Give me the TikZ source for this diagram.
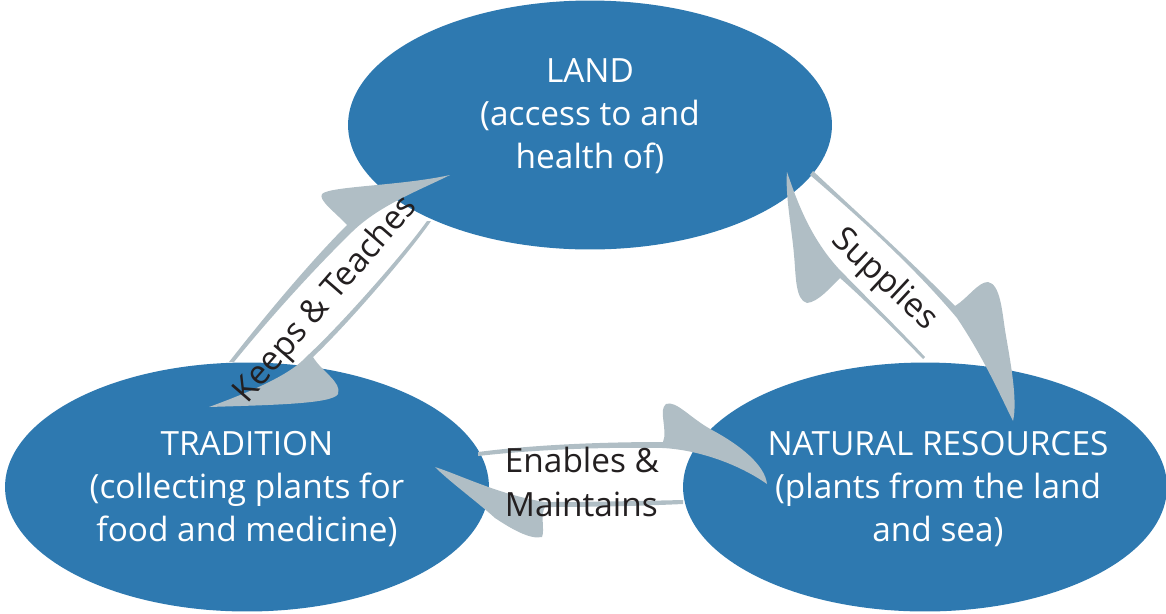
\documentclass[tikz,border=0pt]{standalone}
\usepackage{fontspec}
\setmainfont{Open Sans}
\usepackage{xcolor}
\definecolor{ringblue}{RGB}{46,121,176}
\definecolor{swoosh}{RGB}{176,190,197}
\definecolor{ink}{RGB}{35,31,32}
\usepackage{tikz}
\usetikzlibrary{shapes.geometric}
\tikzstyle{ring} = [
    ellipse,
    minimum width=9.68cm,
    minimum height=4.98cm,
    inner sep=0pt,
    fill=ringblue,
]
\tikzstyle{ringtext} = [
    align=center,
    inner sep=0pt,
    text=white,
    font=\fontsize{19}{24.6}\selectfont,
]
\tikzstyle{swoop} = [
    fill=swoosh,
    draw=none,
]
\tikzstyle{verb} = [
    text=ink, align=left,
    inner sep=0pt,
    font=\fontsize{19}{24.6}\selectfont,
]

\begin{document}
\begin{tikzpicture}[x=0.02cm, y=-0.02cm]
    \useasboundingbox (0,0) rectangle (1166,613);

    % ellipses
    \node (land) at (590,125) [ring] {};
    \node (tradition) at (247,487) [ring] {};
    \node (resources) at (925,487) [ring] {};

    % arrows
    % tradition -> land
    \fill [swoop] (229,362) .. controls (265,316) and (310,262) .. (347,225)
        .. controls (335,212) and (318,200) .. (322,194)
        .. controls (330,186) and (400,186) .. (450,175)
        .. controls (420,190) and (380,205) .. (353,231)
        .. controls (313,270) and (268,320) .. (234,362) -- cycle;
    % land -> tradition
    \fill [swoop] (431,221) .. controls (410,252) and (346,326) .. (313,357)
        .. controls (322,372) and (342,382) .. (338,394)
        .. controls (333,404) and (270,405) .. (209,407)
        .. controls (250,392) and (290,375) .. (306,357)
        .. controls (340,326) and (405,252) .. (427,221) -- cycle;
    % land -> resources
    \fill [swoop] (813,171) .. controls (860,215) and (915,265) .. (955,306)
        .. controls (968,298) and (978,282) .. (988,282)
        .. controls (1000,284) and (1002,310) .. (1005,330)
        .. controls (1010,360) and (1018,400) .. (1013,421)
        .. controls (1000,395) and (985,360) .. (957,318)
        .. controls (915,268) and (860,218) .. (810,175) -- cycle;
    % resources -> land
    \fill [swoop] (923,359) .. controls (895,330) and (865,300) .. (840,278)
        .. controls (830,288) and (818,302) .. (807,303)
        .. controls (795,300) and (796,275) .. (794,255)
        .. controls (792,230) and (785,195) .. (787,172)
        .. controls (795,195) and (808,235) .. (838,268)
        .. controls (865,296) and (900,330) .. (925,357) -- cycle;
    % tradition -> resources
    \fill [swoop] (478,452) .. controls (540,444) and (610,442) .. (663,442)
        .. controls (668,430) and (658,410) .. (666,404)
        .. controls (676,400) and (690,418) .. (712,430)
        .. controls (740,445) and (765,465) .. (767,484)
        .. controls (740,465) and (700,450) .. (663,448)
        .. controls (610,447) and (540,449) .. (478,456) -- cycle;
    % resources -> tradition
    \fill [swoop] (683,504) .. controls (640,506) and (590,507) .. (545,507)
        .. controls (540,515) and (545,530) .. (542,537)
        .. controls (530,540) and (510,528) .. (495,518)
        .. controls (475,500) and (450,482) .. (435,467)
        .. controls (460,475) and (500,495) .. (545,502)
        .. controls (590,502) and (640,501) .. (683,500) -- cycle;

    % labels
    \node (landtext) at (590,116) [ringtext] {LAND\\(access to and\\health of)};
    \node (traditiontext) at (247,489) [ringtext] {TRADITION\\(collecting plants for\\food and medicine)};
    \node (resourcestext) at (938,489) [ringtext] {NATURAL RESOURCES\\(plants from the land\\and sea)};
    \node (keeps) at (326,300) [verb, rotate=49] {Keeps \& Teaches};
    \node (supplies) at (884,280) [verb, rotate=-43] {Supplies};
    \node (enables) at (582,482) [verb] {Enables \&\\Maintains};

\end{tikzpicture}
\end{document}
